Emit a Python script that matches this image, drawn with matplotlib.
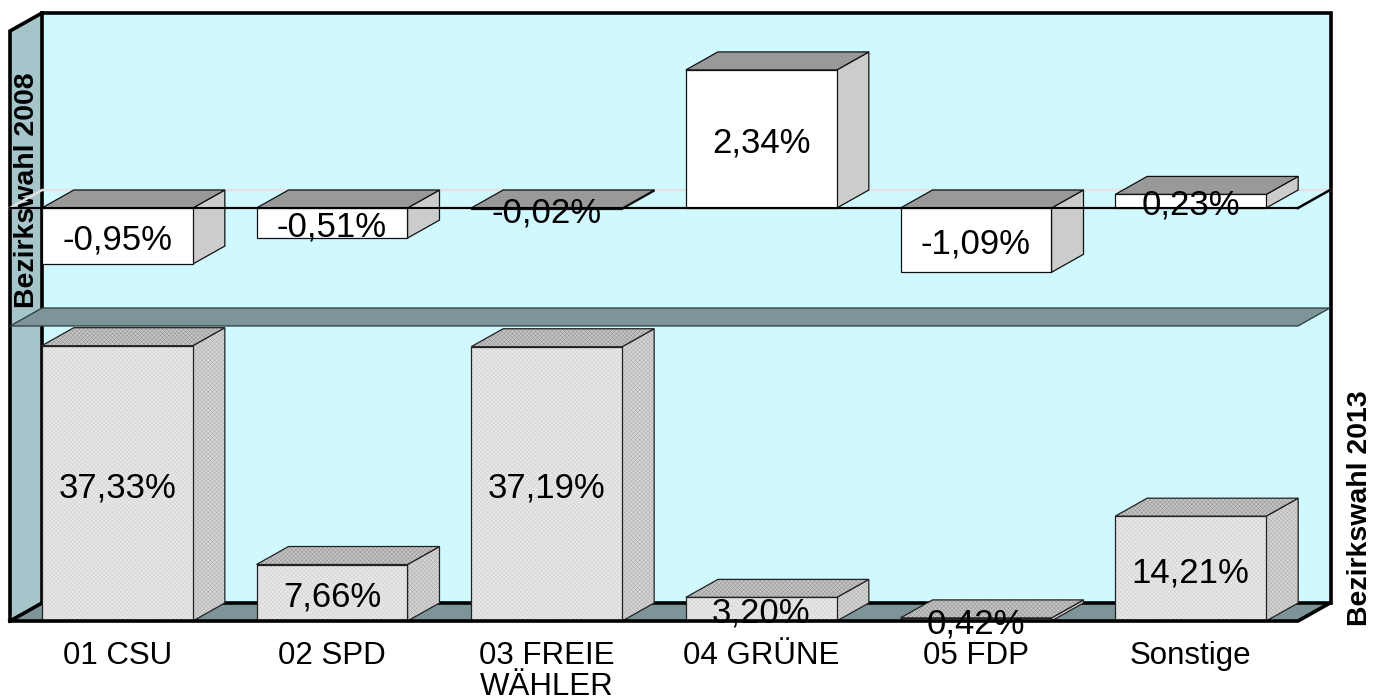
import matplotlib
matplotlib.use("Agg")
import matplotlib.pyplot as plt
from matplotlib.patches import Polygon

plt.rcParams['font.family'] = ['Liberation Sans', 'DejaVu Sans']
plt.rcParams['hatch.linewidth'] = 0.3

# data
parteien = ['01 CSU', '02 SPD', '03 FREIE\nWÄHLER', '04 GRÜNE', '05 FDP', 'Sonstige']
wahl_2013 = [37.33, 7.66, 37.19, 3.20, 0.42, 14.21]
diff_2008 = [-0.95, -0.51, -0.02, 2.34, -1.09, 0.23]
label_2013 = ['37,33%', '7,66%', '37,19%', '3,20%', '0,42%', '14,21%']
label_2008 = ['-0,95%', '-0,51%', '-0,02%', '2,34%', '-1,09%', '0,23%']

W, H = 1385, 700
WAND = '#CFF8FF'
LINKS = '#A6C5CB'
BODEN = '#7D9599'
SCHWARZ = '#000000'

# 3d depth of the chart in category units
tiefe_x = 32 / 214.67
breite = 151 / 214.67


def flaeche(ax, punkte, fc, rand, muster, z):
    ax.add_patch(Polygon(punkte, fc=fc, ec='none', clip_on=False, zorder=z))
    if muster:
        ax.add_patch(Polygon(punkte, fc='none', ec=muster, lw=0, hatch='xxxxxxxx', clip_on=False, zorder=z))
    ax.add_patch(Polygon(punkte, fc='none', ec=rand, lw=0.9, clip_on=False, zorder=z))


def box(ax, x, wert, tiefe_y, farben, muster, rand):
    # front face from 0 to wert, then the side and the top shifted back by the depth
    lo = x - breite / 2
    hi = x + breite / 2
    oben = max(wert, 0)
    flaeche(ax, [(hi, 0), (hi + tiefe_x, tiefe_y), (hi + tiefe_x, wert + tiefe_y), (hi, wert)],
            farben[1], rand, muster[1], 3)
    flaeche(ax, [(lo, oben), (lo + tiefe_x, oben + tiefe_y), (hi + tiefe_x, oben + tiefe_y), (hi, oben)],
            farben[2], rand, muster[2], 3)
    flaeche(ax, [(lo, 0), (hi, 0), (hi, wert), (lo, wert)],
            farben[0], rand, muster[0], 4)


def wert_text(ax, x, y, s):
    ax.annotate(s, (x, y), xytext=(0, -3), textcoords='offset points', ha='center', va='center',
                fontsize=25, zorder=8, annotation_clip=False)


fig = plt.figure(figsize=(W / 100, H / 100), dpi=100)

# background walls
bg = fig.add_axes([0, 0, 1, 1])
bg.set_xlim(0, W)
bg.set_ylim(H, 0)
bg.axis('off')
bg.add_patch(Polygon([(42, 13), (1331, 13), (1331, 603), (42, 603)], fc=WAND, ec='none'))
bg.add_patch(Polygon([(10, 31), (42, 13), (42, 603), (10, 621)], fc=LINKS, ec='none'))
bg.add_patch(Polygon([(10, 621), (42, 603), (1331, 603), (1298, 621)], fc=BODEN, ec='none'))
bg.plot([10, 10, 42, 1331, 1331, 42, 42], [621, 31, 13, 13, 603, 603, 13], color=SCHWARZ, lw=2.6,
        solid_joinstyle='miter')
bg.plot([10, 42], [621, 603], color=SCHWARZ, lw=2.6)
bg.text(27, 190, 'Bezirkswahl 2008', rotation=90, ha='center', va='center', fontsize=20.5, fontweight='bold')
bg.text(1360, 508, 'Bezirkswahl 2013', rotation=90, ha='center', va='center', fontsize=20.5, fontweight='bold')

# lower panel: Bezirkswahl 2013
unten = fig.add_axes([10 / W, (H - 621) / H, 1288 / W, 295 / H])
unten.patch.set_visible(False)
unten.set_xlim(0, 6)
unten.set_ylim(0, 40)
tiefe_u = 18 / 295 * 40
for i in range(6):
    box(unten, i + 0.5, wahl_2013[i], tiefe_u, ('#E8E8E8', '#D4D4D4', '#C4C4C4'),
        ('#CFCFCF', '#ABABAB', '#8E8E8E'), '#222222')
    wert_text(unten, i + 0.5, wahl_2013[i] / 2, label_2013[i])
unten.plot([0, 6, 6 + tiefe_x], [0, 0, tiefe_u], color=SCHWARZ, lw=2.6, clip_on=False, zorder=6)
unten.set_xticks([i + 0.5 for i in range(6)])
unten.set_xticklabels(parteien, fontsize=22.5, linespacing=1.02)
unten.set_yticks([])
unten.tick_params(axis='x', length=0, pad=14.5)
for s in unten.spines.values():
    s.set_visible(False)

# upper panel: difference to Bezirkswahl 2008
oben = fig.add_axes([10 / W, (H - 326) / H, 1288 / W, 295 / H])
oben.patch.set_visible(False)
oben.set_xlim(0, 6)
oben.set_ylim(-2, 3)
tiefe_o = 18 / 295 * 5
flaeche(oben, [(0, -2), (tiefe_x, -2 + tiefe_o), (6 + tiefe_x, -2 + tiefe_o), (6, -2)],
        BODEN, '#2A3A3C', None, 1)
oben.plot([0, tiefe_x, 6 + tiefe_x], [0, tiefe_o, tiefe_o], color='#E2E2E2', lw=1.8, clip_on=False, zorder=1)
oben.plot([0, 6], [0, 0], color=SCHWARZ, lw=1.5, clip_on=False, zorder=2)
oben.plot([6, 6 + tiefe_x], [0, tiefe_o], color=SCHWARZ, lw=1.8, clip_on=False, zorder=2)
for i in range(6):
    box(oben, i + 0.5, diff_2008[i], tiefe_o, ('#FFFFFF', '#CCCCCC', '#999999'), (None, None, None), '#111111')
    wert_text(oben, i + 0.5, diff_2008[i] / 2, label_2008[i])
oben.plot([0, 6], [0, 0], color=SCHWARZ, lw=1.5, clip_on=False, zorder=5)
oben.axis('off')

fig.savefig('out.png', dpi=100)
